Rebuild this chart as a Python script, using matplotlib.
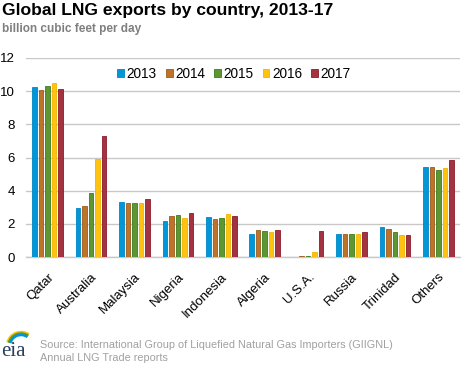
import numpy as np
import matplotlib.pyplot as plt
from matplotlib.patches import Arc

plt.rcParams['font.family'] = ['Liberation Sans', 'DejaVu Sans']

# data (billion cubic feet per day)
countries = ['Qatar', 'Australia', 'Malaysia', 'Nigeria', 'Indonesia',
             'Algeria', 'U.S.A.', 'Russia', 'Trinidad', 'Others']
years = ['2013', '2014', '2015', '2016', '2017']
v2013 = [10.24, 2.93, 3.30, 2.15, 2.39, 1.37, 0.0, 1.37, 1.79, 5.41]
v2014 = [10.06, 3.06, 3.24, 2.45, 2.27, 1.61, 0.04, 1.37, 1.67, 5.41]
v2015 = [10.30, 3.84, 3.24, 2.51, 2.33, 1.55, 0.04, 1.37, 1.49, 5.23]
v2016 = [10.50, 5.89, 3.24, 2.33, 2.57, 1.49, 0.28, 1.37, 1.31, 5.35]
v2017 = [10.16, 7.28, 3.48, 2.63, 2.45, 1.61, 1.55, 1.49, 1.31, 5.83]
series = [v2013, v2014, v2015, v2016, v2017]

colors = ['#0096D7', '#BD732A', '#5D9732', '#FFC20E', '#A33340']
edges = ['#0085C4', '#9C5A1C', '#3F7A1E', '#F0B400', '#8B1A2A']

fig = plt.figure(figsize=(4.68, 3.66), dpi=100)
ax = fig.add_axes([26 / 468, 1 - 257 / 366, 434 / 468, 199 / 366])

x = np.arange(len(countries))
pitch = 0.15
width = 0.105
for i, vals in enumerate(series):
    ax.bar(x + (i - 2) * pitch, vals, width, color=colors[i],
           edgecolor=edges[i], linewidth=0.6, label=years[i], zorder=3)

ax.set_xlim(-0.5, len(countries) - 0.5)
ax.set_ylim(0, 12)
ax.set_yticks(range(0, 13, 2))
ax.yaxis.grid(True, color='#C8C8C8', linewidth=1, zorder=0)
for s in ['top', 'right', 'left']:
    ax.spines[s].set_visible(False)
ax.spines['bottom'].set_color('#C8C8C8')
ax.spines['bottom'].set_linewidth(1)
ax.tick_params(axis='both', length=0, labelsize=9.5, colors='black')
ax.tick_params(axis='y', pad=8)
ax.set_xticks(x)
ax.set_xticklabels(countries, rotation=45, ha='right', rotation_mode='anchor')
ax.tick_params(axis='x', pad=10)

leg = ax.legend(loc='center', bbox_to_anchor=(234 / 468, 1 - 74 / 366),
                bbox_transform=fig.transFigure, ncol=5, frameon=False,
                fontsize=9.8, handlelength=0.5, handleheight=0.5,
                handletextpad=0.2, columnspacing=0.65)

fig.text(2 / 468, 1 - 11 / 366, 'Global LNG exports by country, 2013-17',
         fontsize=12.6, fontweight='bold', va='center', ha='left')
fig.text(2 / 468, 1 - 29 / 366, 'billion cubic feet per day',
         fontsize=8.5, fontweight='bold', color='#7F7F7F', va='center', ha='left')

fig.text(40 / 468, 1 - 345 / 366,
         'Source: International Group of Liquefied Natural Gas Importers (GIIGNL)',
         fontsize=7.8, color='#A0A0A0', va='center', ha='left')
fig.text(40 / 468, 1 - 358 / 366, 'Annual LNG Trade reports',
         fontsize=7.8, color='#A0A0A0', va='center', ha='left')

# eia logo
fig.text(1 / 468, 1 - 352 / 366, 'eia', family='Liberation Serif', fontsize=15,
         color='#2A3F5F', va='center', ha='left')
lax = fig.add_axes([4 / 468, 1 - 346 / 366, 28 / 468, 16 / 366])
lax.set_xlim(0, 28)
lax.set_ylim(0, 16)
lax.axis('off')
for r, c in [(14, '#FFC20E'), (12.5, '#5D9732'), (11, '#0096D7')]:
    lax.add_patch(Arc((17, 0), 2 * r, 2 * r, theta1=55, theta2=165,
                      color=c, linewidth=1.8))

fig.savefig('out.png', dpi=100)
